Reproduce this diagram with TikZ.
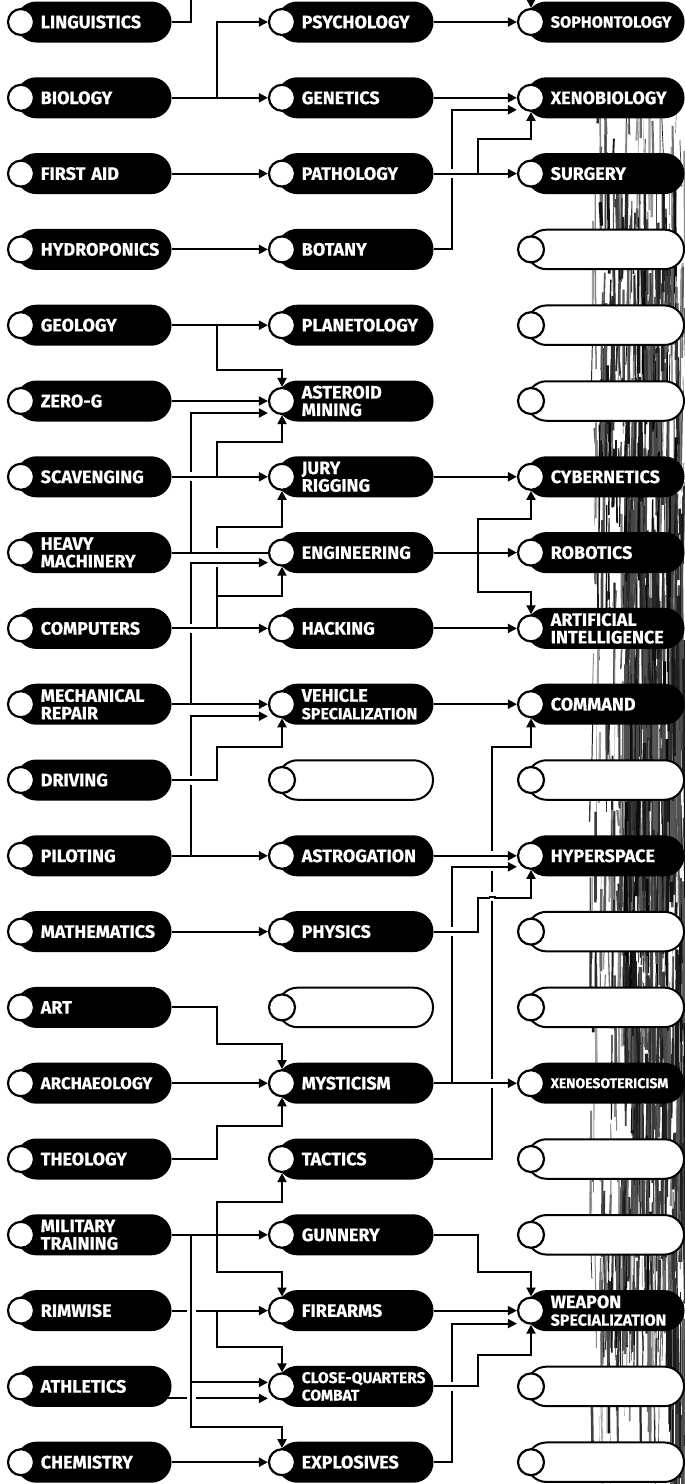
\documentclass[tikz,border=0pt]{standalone}
\usepackage{fontspec}
\setmainfont{Fira Sans}[BoldFeatures={FakeBold=0.6}]
\usetikzlibrary{arrows.meta,calc}
\newcommand\lab{\fontsize{18}{17.5}\selectfont\bfseries}
\newcommand\labsm[1]{\fontsize{#1}{16}\selectfont\bfseries}
\tikzset{
  pill/.style={fill=black, draw=black, line width=1.5pt, rounded corners=19.5pt,
    minimum height=39.5pt, inner xsep=24pt, inner ysep=0pt, text=white,
    align=left, anchor=west, font=\lab},
  lcol/.style={pill, text width=106pt},
  mcol/.style={pill, text width=107pt},
  rcol/.style={pill, text width=109pt},
  hollow/.style={fill=white, line width=2pt},
  knob/.style={circle, draw=black, fill=white, line width=2.2pt, minimum size=26pt, inner sep=0pt},
  conn/.style={draw=black, line width=2pt},
  arr/.style={conn, -{Triangle[length=9pt,width=9pt]}},
}
\newcommand\PillL[3]{\node[lcol] (#1) at (16,#2) {#3}; \node[knob] (#1-c) at (21,#2) {};}
\newcommand\PillM[3]{\node[mcol] (#1) at (277,#2) {#3}; \node[knob] (#1-c) at (282,#2) {};}
\newcommand\PillR[3]{\node[rcol] (#1) at (526,#2) {#3}; \node[knob] (#1-c) at (531,#2) {};}
\newcommand\EmptyM[2]{\node[mcol,hollow] (#1) at (277,#2) {}; \node[knob] (#1-c) at (282,#2) {};}
\newcommand\EmptyR[2]{\node[rcol,hollow] (#1) at (526,#2) {}; \node[knob] (#1-c) at (531,#2) {};}
% crossing: vertical broken, horizontal on top
\newcommand\crossV[2]{\fill[white] ({#1-2.2},{#2-4.5}) rectangle ({#1+2.2},{#2+4.5});
  \draw[conn] ({#1-3.5},#2) -- ({#1+3.5},#2);}
% two close crossings on one vertical
\newcommand\crossVV[3]{\fill[white] ({#1-2.2},{#2-4.5}) rectangle ({#1+2.2},{#3+4.5});
  \draw[conn] ({#1-3.5},#2) -- ({#1+3.5},#2);
  \draw[conn] ({#1-3.5},#3) -- ({#1+3.5},#3);}
% crossing: horizontal broken, vertical on top
\newcommand\crossH[2]{\fill[white] ({#1-4.5},{#2-2.2}) rectangle ({#1+4.5},{#2+2.2});
  \draw[conn] (#1,{#2-3.5}) -- (#1,{#2+3.5});}
\begin{document}
\begin{tikzpicture}[x=1pt,y=-1pt]
\fill[white] (0,0) rectangle (685,1484);
\useasboundingbox (0,0) rectangle (685,1484);

% brush texture on the right
\begin{scope}
\clip (580,60) rectangle (685,1484);
\pgfmathsetseed{11}
\foreach \i in {1,...,420}{
  \pgfmathsetmacro\xx{590+95*rnd}
  \pgfmathsetmacro\yy{90+1300*rnd}
  \pgfmathsetmacro\ll{15+110*rnd}
  \pgfmathsetmacro\ww{0.3+2.4*rnd}
  \pgfmathsetmacro\gg{int(35+60*rnd)}
  \pgfmathsetmacro\dx{4*rnd-2}
  \draw[black!\gg, line width=\ww pt] (\xx,\yy) -- ++(\dx,\ll);
}
\foreach \i in {1,...,160}{
  \pgfmathsetmacro\xx{600+80*rnd}
  \pgfmathsetmacro\yy{160+300*rnd}
  \pgfmathsetmacro\ll{20+90*rnd}
  \pgfmathsetmacro\ww{0.6+2.8*rnd}
  \pgfmathsetmacro\gg{int(60+40*rnd)}
  \pgfmathsetmacro\dx{4*rnd-2}
  \draw[black!\gg, line width=\ww pt] (\xx,\yy) -- ++(\dx,\ll);
}
\foreach \i in {1,...,330}{
  \pgfmathsetmacro\xx{625+60*rnd}
  \pgfmathsetmacro\yy{440+720*rnd}
  \pgfmathsetmacro\ll{20+130*rnd}
  \pgfmathsetmacro\ww{0.8+3.2*rnd}
  \pgfmathsetmacro\gg{int(65+35*rnd)}
  \pgfmathsetmacro\dx{4*rnd-2}
  \draw[black!\gg, line width=\ww pt] (\xx,\yy) -- ++(\dx,\ll);
}
\foreach \i in {1,...,120}{
  \pgfmathsetmacro\xx{600+85*rnd}
  \pgfmathsetmacro\yy{1140+200*rnd}
  \pgfmathsetmacro\ll{20+100*rnd}
  \pgfmathsetmacro\ww{0.5+2.5*rnd}
  \pgfmathsetmacro\gg{int(50+50*rnd)}
  \pgfmathsetmacro\dx{4*rnd-2}
  \draw[black!\gg, line width=\ww pt] (\xx,\yy) -- ++(\dx,\ll);
}
\foreach \i in {1,...,60}{
  \pgfmathsetmacro\xx{670+15*rnd}
  \pgfmathsetmacro\yy{1280+200*rnd}
  \pgfmathsetmacro\ll{20+80*rnd}
  \pgfmathsetmacro\ww{0.5+2.5*rnd}
  \pgfmathsetmacro\gg{int(55+45*rnd)}
  \draw[black!\gg, line width=\ww pt] (\xx,\yy) -- ++(0,\ll);
}
\foreach \i in {1,...,12}{
  \pgfmathsetmacro\xx{595+30*rnd}
  \pgfmathsetmacro\yy{1320+120*rnd}
  \pgfmathsetmacro\ll{30+60*rnd}
  \draw[black!40, line width=0.4pt] (\xx,\yy) -- ++(0.5,\ll);
}
\end{scope}

% routing columns
\coordinate (L1) at (191,0);
\coordinate (L2) at (217,0);
\coordinate (R1) at (452,0);
\coordinate (R2) at (478,0);
\coordinate (R3) at (492,0);

% left column
\PillL{ling}{22}{LINGUISTICS}
\PillL{bio}{97.8}{BIOLOGY}
\PillL{fa}{173.6}{FIRST AID}
\PillL{hydro}{249.4}{HYDROPONICS}
\PillL{geo}{325.2}{GEOLOGY}
\PillL{zerog}{401}{ZERO-G}
\PillL{scav}{476.8}{SCAVENGING}
\PillL{heavy}{552.6}{HEAVY\\MACHINERY}
\PillL{comp}{628.4}{COMPUTERS}
\PillL{mech}{704.2}{MECHANICAL\\REPAIR}
\PillL{drive}{780}{DRIVING}
\PillL{pilot}{855.8}{PILOTING}
\PillL{math}{931.6}{MATHEMATICS}
\PillL{art}{1007.4}{ART}
\PillL{arch}{1083.2}{\labsm{16.9}ARCHAEOLOGY}
\PillL{theo}{1159}{THEOLOGY}
\PillL{mil}{1234.8}{MILITARY\\TRAINING}
\PillL{rim}{1310.6}{RIMWISE}
\PillL{ath}{1386.4}{ATHLETICS}
\PillL{chem}{1462.2}{CHEMISTRY}

% middle column
\PillM{psy}{22}{PSYCHOLOGY}
\PillM{gen}{97.8}{GENETICS}
\PillM{path}{173.6}{PATHOLOGY}
\PillM{bot}{249.4}{BOTANY}
\PillM{plan}{325.2}{PLANETOLOGY}
\PillM{ast}{401}{ASTEROID\\MINING}
\PillM{jury}{476.8}{JURY\\RIGGING}
\PillM{eng}{552.6}{ENGINEERING}
\PillM{hack}{628.4}{HACKING}
\PillM{veh}{704.2}{VEHICLE\\\labsm{16}SPECIALIZATION}
\EmptyM{mten}{780}
\PillM{astro}{855.8}{ASTROGATION}
\PillM{phys}{931.6}{PHYSICS}
\EmptyM{mthirteen}{1007.4}
\PillM{myst}{1083.2}{MYSTICISM}
\PillM{tac}{1159}{TACTICS}
\PillM{gun}{1234.8}{GUNNERY}
\PillM{fire}{1310.6}{FIREARMS}
\PillM{cqc}{1386.4}{\labsm{15.5}\mbox{CLOSE-QUARTERS}\\\labsm{15.5}COMBAT}
\PillM{expl}{1462.2}{EXPLOSIVES}

% right column
\PillR{soph}{22}{\labsm{16.2}SOPHONTOLOGY}
\PillR{xeno}{97.8}{XENOBIOLOGY}
\PillR{surg}{173.6}{SURGERY}
\EmptyR{rthree}{249.4}
\EmptyR{rfour}{325.2}
\EmptyR{rfive}{401}
\PillR{cyb}{476.8}{CYBERNETICS}
\PillR{robo}{552.6}{ROBOTICS}
\PillR{ai}{628.4}{ARTIFICIAL\\INTELLIGENCE}
\PillR{cmd}{704.2}{COMMAND}
\EmptyR{rten}{780}
\PillR{hyper}{855.8}{HYPERSPACE}
\EmptyR{rtwelve}{931.6}
\EmptyR{rthirteen}{1007.4}
\PillR{xeso}{1083.2}{\labsm{14}XENOESOTERICISM}
\EmptyR{rfifteen}{1159}
\EmptyR{rsixteen}{1234.8}
\PillR{weap}{1310.6}{WEAPON\\\labsm{16}SPECIALIZATION}
\EmptyR{reighteen}{1386.4}
\EmptyR{rnineteen}{1462.2}

% helper points on the circles
\coordinate (xeno-w2) at ($(xeno-c.west)+(0,12)$);
\coordinate (xeno-bh) at ($(xeno-c.south)+(0,27)$);
\coordinate (ast-th) at ($(ast-c.north)+(0,-17)$);
\coordinate (ast-w2) at ($(ast-c.west)+(0,12)$);
\coordinate (ast-bh) at ($(ast-c.south)+(0,27)$);
\coordinate (jury-bh) at ($(jury-c.south)+(0,36)$);
\coordinate (eng-w2) at ($(eng-c.west)+(0,10)$);
\coordinate (eng-bh) at ($(eng-c.south)+(0,29)$);
\coordinate (cyb-bh) at ($(cyb-c.south)+(0,28)$);
\coordinate (ai-th) at ($(ai-c.north)+(0,-22)$);
\coordinate (veh-w2) at ($(veh-c.west)+(0,12)$);
\coordinate (veh-bh) at ($(veh-c.south)+(0,29)$);
\coordinate (cmd-bh) at ($(cmd-c.south)+(0,29)$);
\coordinate (hyper-w2) at ($(hyper-c.west)+(0,11)$);
\coordinate (hyper-bh) at ($(hyper-c.south)+(0,28)$);
\coordinate (myst-th) at ($(myst-c.north)+(0,-25)$);
\coordinate (myst-bh) at ($(myst-c.south)+(0,29)$);
\coordinate (tac-bh) at ($(tac-c.south)+(0,29)$);
\coordinate (fire-th) at ($(fire-c.north)+(0,-25)$);
\coordinate (cqc-w1) at ($(cqc-c.west)+(0,-4)$);
\coordinate (cqc-w2) at ($(cqc-c.west)+(0,12)$);
\coordinate (cqc-th) at ($(cqc-c.north)+(0,-25)$);
\coordinate (ath-o) at ($(ath.east)+(-5,12)$);
\coordinate (expl-th) at ($(expl-c.north)+(0,-21)$);
\coordinate (weap-th) at ($(weap-c.north)+(0,-25)$);
\coordinate (weap-w2) at ($(weap-c.west)+(0,13)$);
\coordinate (weap-bh) at ($(weap-c.south)+(0,30)$);

% top, leaving the picture
\draw[conn] (ling.east) -| (L1);
\draw[arr] (soph-c.north |- L1) -- (soph-c.north);

% rows 0-3
\draw[arr] (psy.east) -- (soph-c.west);
\draw[arr] (bio.east) -- (gen-c.west);
\draw[arr] (bio.east -| L2) |- (psy-c.west);
\draw[arr] (gen.east) -- (xeno-c.west);
\draw[arr] (fa.east) -- (path-c.west);
\draw[arr] (hydro.east) -- (bot-c.west);
\draw[arr] (bot.east) -| (xeno-w2 -| R1) -- (xeno-w2);
\draw[arr] (path.east) -- (surg-c.west);
\draw[arr] (path.east -| R2) |- (xeno-bh) -- (xeno-c.south);

% rows 4-9
\draw[arr] (geo.east) -- (plan-c.west);
\draw[arr] (geo.east -| L2) |- (ast-th) -- (ast-c.north);
\draw[arr] (zerog.east) -- (ast-c.west);
\draw[arr] (heavy.east) -| (ast-w2 -| L1) -- (ast-w2);
\draw[arr] (scav.east -| L2) |- (ast-bh) -- (ast-c.south);
\draw[arr] (scav.east) -- (jury-c.west);
\draw[conn] (heavy.east) -- (eng-c.west);
\draw[arr] (comp.east -| L2) |- (jury-bh) -- (jury-c.south);
\draw[arr] (comp.east -| L2) |- (eng-bh) -- (eng-c.south);
\draw[arr] (mech.east) -| (eng-w2 -| L1) -- (eng-w2);
\draw[arr] (jury.east) -- (cyb-c.west);
\draw[arr] (eng.east) -- (robo-c.west);
\draw[arr] (eng.east -| R2) |- (cyb-bh) -- (cyb-c.south);
\draw[arr] (eng.east -| R2) |- (ai-th) -- (ai-c.north);
\draw[arr] (comp.east) -- (hack-c.west);
\draw[arr] (hack.east) -- (ai-c.west);
\draw[arr] (mech.east) -- (veh-c.west);
\draw[arr] (pilot.east -| L1) |- (veh-w2);
\draw[arr] (drive.east) -| (veh-bh -| L2) -- (veh-bh) -- (veh-c.south);
\draw[arr] (veh.east) -- (cmd-c.west);
\draw[arr] (tac.east) -| (cmd-bh -| R3) -- (cmd-bh) -- (cmd-c.south);

% rows 11-15
\draw[arr] (pilot.east) -- (astro-c.west);
\draw[arr] (astro.east) -- (hyper-c.west);
\draw[arr] (math.east) -- (phys-c.west);
\draw[arr] (phys.east) -| (hyper-bh -| R2) -- (hyper-bh) -- (hyper-c.south);
\draw[arr] (myst.east) -| (hyper-w2 -| R1) -- (hyper-w2);
\draw[arr] (art.east) -| (myst-th -| L2) -- (myst-th) -- (myst-c.north);
\draw[arr] (arch.east) -- (myst-c.west);
\draw[arr] (theo.east) -| (myst-bh -| L2) -- (myst-bh) -- (myst-c.south);
\draw[arr] (myst.east) -- (xeso-c.west);

% rows 16-19
\draw[arr] (mil.east) -- (gun-c.west);
\draw[arr] (mil.east -| L2) |- (tac-bh) -- (tac-c.south);
\draw[arr] (mil.east -| L2) |- (fire-th) -- (fire-c.north);
\draw[arr] (mil.east -| L1) |- (cqc-w1);
\draw[arr] (mil.east -| L1) |- (expl-th) -- (expl-c.north);
\draw[arr] (rim.east) -- (fire-c.west);
\draw[arr] (rim.east -| L2) |- (cqc-th) -- (cqc-c.north);
\draw[arr] (ath-o) -- (cqc-w2);
\draw[arr] (chem.east) -- (expl-c.west);
\draw[arr] (gun.east) -| (weap-th -| R2) -- (weap-th) -- (weap-c.north);
\draw[arr] (fire.east) -- (weap-c.west);
\draw[arr] (cqc.east) -| (weap-bh -| R2) -- (weap-bh) -- (weap-c.south);
\draw[arr] (expl.east) -| (weap-w2 -| R1) -- (weap-w2);

% line crossings
\crossV{191}{476.8}
\crossVV{217}{552.6}{562.6}
\crossV{191}{628.4}
\crossV{191}{780}
\crossV{452}{173.6}
\crossVV{492}{855.8}{866.8}
\crossV{492}{896.8}
\crossV{452}{931.6}
\crossV{492}{1083.2}
\crossV{452}{1386.4}
\crossH{191}{1310.6}
\crossH{191}{1398.4}
\end{tikzpicture}
\end{document}
